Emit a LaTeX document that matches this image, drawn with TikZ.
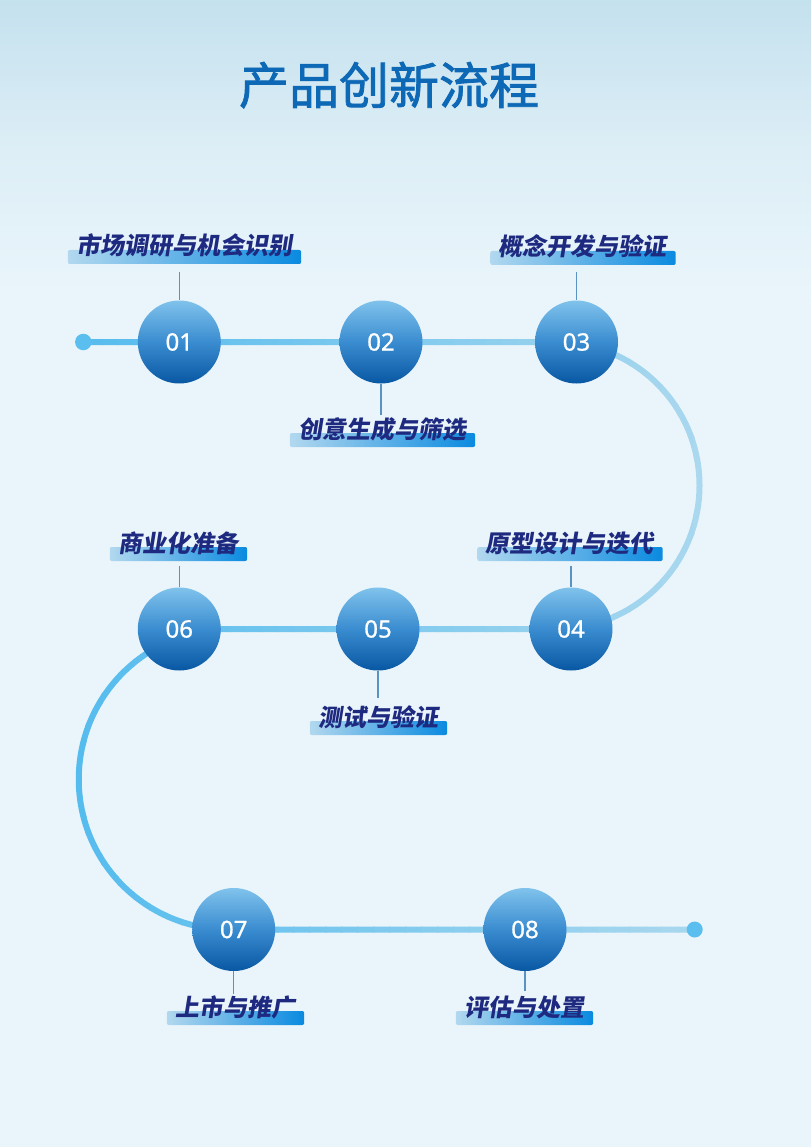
\documentclass[tikz,border=0pt]{standalone}
\usepackage{fontspec}
\newfontfamily\cjk[FakeBold=1.6]{Noto Sans CJK SC}
\newfontfamily\labfont[FakeSlant=0.16]{Noto Sans CJK SC}
\newfontfamily\numfont[FakeBold=1]{Noto Sans}
\usetikzlibrary{calc}
\pgfdeclarelayer{bg}
\pgfdeclarelayer{mid}
\pgfsetlayers{bg,mid,main}
\definecolor{bgTop}{HTML}{C4E1EE}
\definecolor{bgMid}{HTML}{DDEEF6}
\definecolor{bgMain}{HTML}{EAF5FB}
\definecolor{lineL}{HTML}{55BCEE}
\definecolor{lineR}{HTML}{AAD8EE}
\definecolor{dotC}{HTML}{5ABEEF}
\definecolor{circTop}{HTML}{80C3EC}
\definecolor{circMid}{HTML}{3A8CD0}
\definecolor{circBot}{HTML}{0857A3}
\definecolor{labNavy}{HTML}{1E2A80}
\definecolor{barL}{HTML}{B2D8EF}
\definecolor{barR}{HTML}{0A8AE0}
\definecolor{connC}{HTML}{5A93C3}
\definecolor{titleC}{HTML}{0D68B5}
\newcommand\steplabel[4]{%
  \node[labeltext] (#1) at (#2,#3) {#4};
  \begin{pgfonlayer}{mid}
    \shade[barshade] ($(#1.base west)+(-8,-5)$) rectangle ($(#1.base east)+(9,9)$);
  \end{pgfonlayer}
}
\newcommand\flowpath{(start.center) -- (s1.center) -- (s2.center) -- (s3.center) -- (ra)
  .. controls (635.25,342) and (699.5,406.25) .. (699.5,485.5)
  .. controls (699.5,564.75) and (635.25,629) .. (rb)
  -- (s4.center) -- (s5.center) -- (la)
  .. controls (146.02,629) and (78.75,696.02) .. (78.75,779.25)
  .. controls (78.75,862.48) and (146.02,929.5) .. (lb)
  -- (s7.center) -- (s8.center) -- (end.center)}
\begin{document}
\begin{tikzpicture}[x=1pt,y=-1pt,
  stepcircle/.style={circle, minimum size=83pt, inner sep=0pt, top color=circTop, bottom color=circBot, middle color=circMid, text=white, font=\numfont\fontsize{24}{27}\selectfont},
  labeltext/.style={inner sep=0pt, anchor=base, text=labNavy, font=\labfont\bfseries\fontsize{24}{28}\selectfont},
  barshade/.style={left color=barL, right color=barR, rounded corners=2pt},
  conn/.style={draw=connC, line width=1.2pt},
  dotst/.style={circle, fill=dotC, inner sep=0pt, minimum size=16.5pt}
]
\useasboundingbox (0,0) rectangle (811,1147);
\begin{pgfonlayer}{bg}
  \fill[bgMain] (0,0) rectangle (811,1147);
  \shade[top color=bgTop, bottom color=bgMain, middle color=bgMid] (0,0) rectangle (811,300);
\end{pgfonlayer}

\node[font=\cjk\fontsize{50}{56}\selectfont, text=titleC, anchor=base] (title) at (389,104) {产品创新流程};

% path points
\coordinate (ra) at (556,342);
\coordinate (rb) at (556,629);
\coordinate (la) at (229,629);
\coordinate (lb) at (229,929.5);

% end dots
\node[dotst] (start) at (83.3,342) {};
\node[dotst, minimum size=16pt] (end) at (694.7,929.5) {};

% step circles
\node[stepcircle] (s1) at (179.3,342) {01};
\node[stepcircle] (s2) at (381,342) {02};
\node[stepcircle] (s3) at (576.5,342) {03};
\node[stepcircle] (s4) at (571,629) {04};
\node[stepcircle] (s5) at (378,629) {05};
\node[stepcircle] (s6) at (179.3,629) {06};
\node[stepcircle] (s7) at (233.7,929.5) {07};
\node[stepcircle] (s8) at (525,929.5) {08};

% gradient flow line
\begin{pgfonlayer}{bg}
\foreach \i in {0,...,39}{
  \pgfmathtruncatemacro\pc{round(100*\i/39)}
  \begin{scope}
    \clip (70+16*\i-0.6,290) rectangle (70+16*\i+16.6,970);
    \draw[line width=6pt, color=lineR!\pc!lineL] \flowpath;
  \end{scope}
}
\end{pgfonlayer}

% labels
\steplabel{l1}{184}{255}{市场调研与机会识别}
\steplabel{l2}{382}{438}{创意生成与筛选}
\steplabel{l3}{582.5}{256}{概念开发与验证}
\steplabel{l4}{569.5}{552}{原型设计与迭代}
\steplabel{l5}{378}{726}{测试与验证}
\steplabel{l6}{178}{552}{商业化准备}
\steplabel{l7}{235}{1016}{上市与推广}
\steplabel{l8}{524}{1016}{评估与处置}

% connectors
\coordinate (c1) at (179.3,272);
\coordinate (c2) at (381,415);
\coordinate (c3) at (576.5,272);
\coordinate (c4) at (571,566);
\coordinate (c5) at (378,698);
\coordinate (c6) at (179.3,566);
\coordinate (c7) at (233.7,994);
\coordinate (c8) at (525,991);
\draw[conn] (c1) -- (s1);
\draw[conn] (s2) -- (c2);
\draw[conn] (c3) -- (s3);
\draw[conn] (c4) -- (s4);
\draw[conn] (s5) -- (c5);
\draw[conn] (c6) -- (s6);
\draw[conn] (s7) -- (c7);
\draw[conn] (s8) -- (c8);
\end{tikzpicture}
\end{document}
